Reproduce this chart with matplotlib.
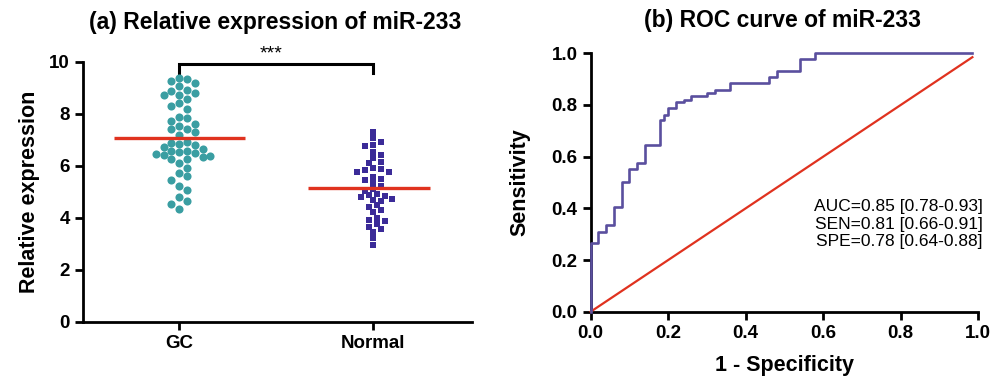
import numpy as np
import matplotlib
matplotlib.use("Agg")
import matplotlib.pyplot as plt

plt.rcParams['font.family'] = ['Liberation Sans', 'DejaVu Sans']

# ---- data ----
groups = ['GC', 'Normal']
gc_vals = [9.33, 9.18, 9.28, 9.38, 9.08, 8.82, 8.72, 8.92, 8.74, 8.87,
           8.41, 8.58, 8.31, 8.18, 7.85, 7.72, 7.90, 7.62, 7.44, 7.31,
           7.41, 7.53, 7.19, 6.91, 6.90, 6.80, 6.65, 6.85, 6.54, 6.47,
           6.38, 6.56, 6.59, 6.72, 6.50, 6.41, 6.33, 6.28, 6.26, 6.10,
           5.91, 5.73, 5.60, 5.46, 5.24, 5.09, 4.82, 4.64, 4.53, 4.35]
normal_vals = [7.32, 7.09, 6.94, 6.76, 6.82, 6.54, 6.44, 6.29, 6.10, 6.17,
               5.88, 5.78, 5.76, 5.86, 5.91, 5.59, 5.51, 5.36, 5.46, 5.23,
               5.13, 5.03, 4.94, 4.85, 4.74, 4.67, 4.71, 4.82, 4.87, 4.51,
               4.44, 4.30, 4.22, 3.93, 3.78, 3.88, 4.01, 3.67, 3.58, 3.46,
               3.24, 2.97]
gc_mean = 7.08
normal_mean = 5.14

roc_fpr = [0, 0, 0.02, 0.04, 0.06, 0.08, 0.10, 0.12, 0.14, 0.18, 0.19,
           0.20, 0.22, 0.24, 0.26, 0.30, 0.32, 0.36, 0.46, 0.48, 0.54,
           0.58, 0.985]
roc_tpr = [0, 0.265, 0.31, 0.335, 0.405, 0.503, 0.551, 0.574, 0.645, 0.742,
           0.76, 0.787, 0.813, 0.82, 0.835, 0.845, 0.858, 0.884, 0.907,
           0.931, 0.977, 1.0, 1.0]
ref_line = [0, 0.985]

stats_text = "AUC=0.85 [0.78-0.93]\nSEN=0.81 [0.66-0.91]\nSPE=0.78 [0.64-0.88]"

TEAL = '#3a9ea2'
INDIGO = '#3b2b98'
ROC = '#5a4f9e'
RED = '#e0321f'


def swarm(vals, xpx_per_unit, ypx_per_unit, diam, step):
    # greedy beeswarm: offsets (in px) that keep markers apart
    placed = []
    offs = np.zeros(len(vals))
    order = np.argsort(vals)[::-1]
    cands = [0]
    for k in range(1, 12):
        cands += [k * step, -k * step]
    for i in order:
        yp = vals[i] * ypx_per_unit
        for c in cands:
            if all((c - px) ** 2 + (yp - py) ** 2 >= diam ** 2 for px, py in placed):
                break
        placed.append((c, yp))
        offs[i] = c / xpx_per_unit
    return offs


W, H = 1003, 381
fig = plt.figure(figsize=(W / 100, H / 100), dpi=100)

# ---------- (a) scatter ----------
ax1 = fig.add_axes([83 / W, 1 - 322 / H, 388.7 / W, 260 / H])
xppu, yppu = 193.7, 26.0

gx = 0 + swarm(np.array(gc_vals), xppu, yppu, 7.6, 7.8)
nx = 1 + swarm(np.array(normal_vals), xppu, yppu, 5.6, 3.9)
ax1.scatter(gx, gc_vals, s=34, marker='o', color=TEAL, linewidths=0, zorder=3)
ax1.scatter(nx, normal_vals, s=22, marker='s', color=INDIGO, linewidths=0, zorder=3)
ax1.hlines([gc_mean, normal_mean], [-0.337, 0.664], [0.34, 1.294],
           colors=RED, linewidth=2.4, zorder=4)

# significance bracket
ax1.plot([0, 0, 1, 1], [9.59, 9.92, 9.92, 9.59], color='black', lw=2.2,
         clip_on=False, solid_joinstyle='miter')
ax1.text(0.472, 10.0, '***', ha='center', va='bottom', fontsize=14)

ax1.set_xlim(-0.497, 1.51)
ax1.set_ylim(0, 10)
ax1.set_yticks(range(0, 11, 2))
ax1.set_xticks([0, 1])
ax1.set_xticklabels(groups)
ax1.set_ylabel('Relative expression', fontsize=15.5, fontweight='bold')
ax1.yaxis.set_label_coords(-0.11, 0.5)

# ---------- (b) ROC ----------
ax2 = fig.add_axes([590.7 / W, 1 - 311.7 / H, 387.5 / W, 258.4 / H])
ax2.plot(ref_line, ref_line, color=RED, lw=1.6, zorder=3, clip_on=False)
ax2.step(roc_fpr, roc_tpr, where='post', color=ROC, lw=1.9, zorder=4, clip_on=False)
ax2.set_xlim(0, 1)
ax2.set_ylim(0, 1)
ax2.set_xticks(np.arange(0, 1.01, 0.2))
ax2.set_yticks(np.arange(0, 1.01, 0.2))
ax2.set_xticklabels(['%.1f' % v for v in np.arange(0, 1.01, 0.2)])
ax2.set_yticklabels(['%.1f' % v for v in np.arange(0, 1.01, 0.2)])
ax2.set_xlabel('1 - Specificity', fontsize=15.5, fontweight='bold')
ax2.set_ylabel('Sensitivity', fontsize=15.5, fontweight='bold')
ax2.xaxis.set_label_coords(0.5, -0.168)
ax2.yaxis.set_label_coords(-0.155, 0.5)
ax2.text(1.012, 0.339, stats_text, transform=ax2.transAxes, ha='right',
         va='center', fontsize=12.5, linespacing=1.2)

for ax in (ax1, ax2):
    for side in ('top', 'right'):
        ax.spines[side].set_visible(False)
    for side in ('left', 'bottom'):
        ax.spines[side].set_linewidth(2)
    ax.tick_params(direction='out', length=5.5, width=2, labelsize=13.5, pad=4)
    for lab in ax.get_xticklabels() + ax.get_yticklabels():
        lab.set_fontweight('bold')

fig.text(275 / W, 1 - 22 / H, '(a) Relative expression of miR-233',
         ha='center', va='center', fontsize=16.5, fontweight='bold')
fig.text(783 / W, 1 - 20 / H, '(b) ROC curve of miR-233',
         ha='center', va='center', fontsize=16.5, fontweight='bold')

fig.savefig('out.png', dpi=100)
